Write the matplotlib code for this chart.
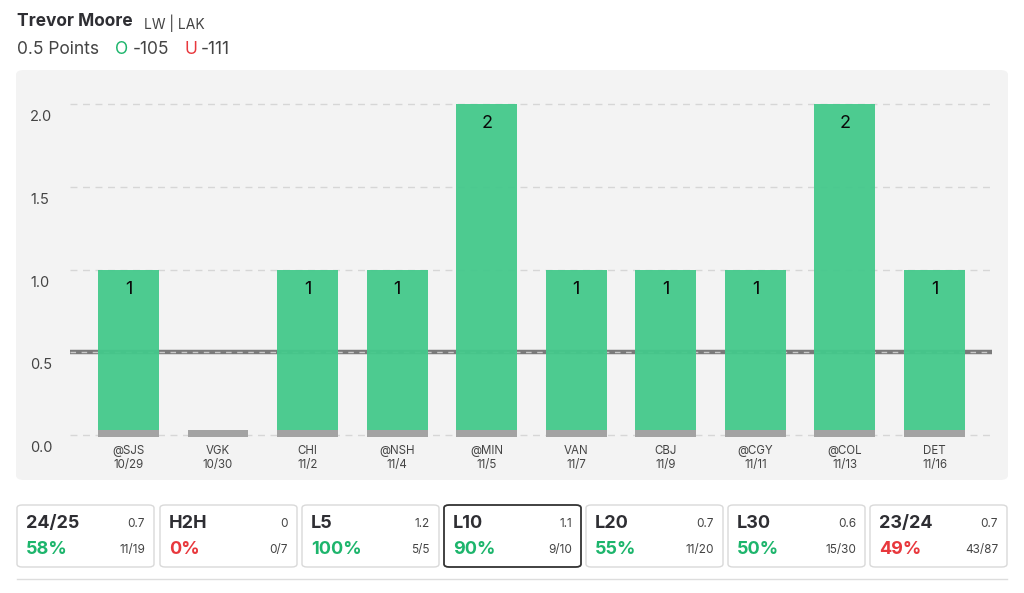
import matplotlib
matplotlib.use("Agg")
import matplotlib.pyplot as plt
from matplotlib.patches import FancyBboxPatch
from matplotlib.transforms import blended_transform_factory
from matplotlib.lines import Line2D

plt.rcParams['font.family'] = ['Inter', 'DejaVu Sans']

# ---- data ----
opponents = ["@SJS", "VGK", "CHI", "@NSH", "@MIN", "VAN", "CBJ", "@CGY", "@COL", "DET"]
dates = ["10/29", "10/30", "11/2", "11/4", "11/5", "11/7", "11/9", "11/11", "11/13", "11/16"]
points = [1, 0, 1, 1, 2, 1, 1, 1, 2, 1]
line_value = 0.5
yticks = [0.0, 0.5, 1.0, 1.5, 2.0]

card_labels = ["24/25", "H2H", "L5", "L10", "L20", "L30", "23/24"]
card_avgs = ["0.7", "0", "1.2", "1.1", "0.7", "0.6", "0.7"]
card_pcts = ["58%", "0%", "100%", "90%", "55%", "50%", "49%"]
card_fracs = ["11/19", "0/7", "5/5", "9/10", "11/20", "15/30", "43/87"]
card_good = [True, False, True, True, True, True, False]

GREEN_BAR = "#44c98b"
GREEN_TXT = "#1db56c"
RED_TXT = "#e8383d"
DARK = "#2e2e33"
GREY_TXT = "#444444"

W, H = 1024, 593
fig = plt.figure(figsize=(W / 100, H / 100), dpi=100)
fig.patch.set_facecolor("white")

def fx(px):
    return px / W

def fy(py):
    return 1 - py / H

# header
fig.text(fx(17), fy(22), "Trevor Moore", fontsize=12.5, fontweight="bold", color=DARK, va="center")
fig.text(fx(144), fy(23), "LW | LAK", fontsize=10, color=GREY_TXT, va="center")
fig.text(fx(17), fy(49), "0.5 Points", fontsize=12.5, color=GREY_TXT, va="center")
fig.text(fx(115), fy(49), "O", fontsize=12.5, color=GREEN_TXT, va="center")
fig.text(fx(133), fy(49), "-105", fontsize=12.5, color=GREY_TXT, va="center")
fig.text(fx(185), fy(49), "U", fontsize=12.5, color=RED_TXT, va="center")
fig.text(fx(201), fy(49), "-111", fontsize=12.5, color=GREY_TXT, va="center")

# chart panel background
panel = FancyBboxPatch((fx(16), fy(480)), fx(1008) - fx(16), fy(70) - fy(480),
                       boxstyle="round,pad=0,rounding_size=0.008",
                       transform=fig.transFigure, facecolor="#f3f3f3",
                       edgecolor="none", zorder=-10)
fig.patches.append(panel)

# axes
ax = fig.add_axes([fx(70), fy(440), fx(992) - fx(70), fy(100) - fy(440)], zorder=1)
ax.set_facecolor("none")
ax.patch.set_alpha(0)
xs = list(range(len(points)))
ax.set_xlim(-0.653, 9.642)
ax.set_ylim(-0.03, 2.024)
for s in ax.spines.values():
    s.set_visible(False)
ax.set_xticks([])
ax.set_yticks([])

# gridlines
for t in yticks:
    ax.axhline(t, color="#d6d6d6", lw=1, ls=(0, (5, 4)), zorder=1)

# threshold line
ax.axhline(line_value, color="#7a7a7a", lw=3.2, zorder=2)
ax.axhline(line_value, color="#c8c8c8", lw=1, ls=(0, (4, 4)), zorder=2.1)

base = 0.03
greens = [max(p - base, 0) for p in points]
ax.bar(xs, greens, bottom=base, width=0.68, color=GREEN_BAR, alpha=0.95, zorder=3)
ax.bar(xs, [base + 0.012] * len(xs), bottom=-0.012, width=0.68, color="#a3a3a3", zorder=3)

for x, p in zip(xs, points):
    if p > 0:
        ax.text(x, p - 0.12, f"{p}", ha="center", va="center", fontsize=13, color="#0a0a0a", zorder=4)

# x labels
for x, o, d in zip(xs, opponents, dates):
    ax.text(x, -0.097, o, ha="center", va="center", fontsize=8.3, color=GREY_TXT)
    ax.text(x, -0.183, d, ha="center", va="center", fontsize=8.3, color=GREY_TXT)

# y tick labels
tr = blended_transform_factory(fig.transFigure, ax.transData)
for t in yticks:
    ax.text(fx(30), t - 0.079, f"{t:.1f}", transform=tr, ha="left", va="center",
            fontsize=10.5, color=GREY_TXT)

# cards
card_x = [17, 160, 302, 444, 586, 728, 870]
card_w = 137
top, bot = 505, 567
for i, cx in enumerate(card_x):
    sel = card_labels[i] == "L10"
    box = FancyBboxPatch((fx(cx), fy(bot)), fx(card_w), fy(top) - fy(bot),
                         boxstyle="round,pad=0,rounding_size=0.005",
                         transform=fig.transFigure, facecolor="white",
                         edgecolor="#333333" if sel else "#d9d9d9",
                         lw=1.3 if sel else 1.0)
    fig.patches.append(box)
    fig.text(fx(cx + 9), fy(523), card_labels[i], fontsize=13, fontweight="bold", color=DARK, va="center")
    fig.text(fx(cx + card_w - 9), fy(524), card_avgs[i], fontsize=8.5, color=GREY_TXT, va="center", ha="right")
    fig.text(fx(cx + 9), fy(549), card_pcts[i], fontsize=13, fontweight="bold",
             color=GREEN_TXT if card_good[i] else RED_TXT, va="center")
    fig.text(fx(cx + card_w - 9), fy(550), card_fracs[i], fontsize=8.5, color=GREY_TXT, va="center", ha="right")

fig.add_artist(Line2D([fx(17), fx(1007)], [fy(579), fy(579)], color="#dddddd", lw=1,
                      transform=fig.transFigure))

fig.savefig("out.png", dpi=100, facecolor="white")
